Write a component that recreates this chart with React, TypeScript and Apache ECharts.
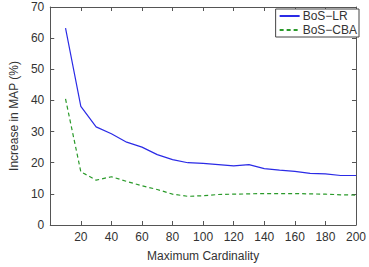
import React, { useEffect, useRef } from "react";
import * as echarts from "echarts";

const xValues = [10, 20, 30, 40, 50, 60, 70, 80, 90, 100, 110, 120, 130, 140, 150, 160, 170, 180, 190, 200];
const bosLR = [63.2, 38.1, 31.5, 29.3, 26.6, 25.0, 22.6, 21.0, 20.0, 19.8, 19.4, 19.0, 19.4, 18.1, 17.6, 17.2, 16.6, 16.4, 15.9, 15.9];
const bosCBA = [40.5, 17.1, 14.4, 15.5, 14.0, 12.6, 11.4, 9.9, 9.2, 9.4, 9.8, 9.9, 10.0, 10.1, 10.1, 10.1, 10.0, 9.9, 9.7, 9.6];
const seriesNames = ["BoS\u2212LR", "BoS\u2212CBA"];
const xAxisTitle = "Maximum Cardinality";
const yAxisTitle = "Increase in MAP (%)";

const FONT = "Liberation Sans, Arial, sans-serif";
const AXIS_COLOR = "#555";
const TEXT_COLOR = "#333";
const FS = 12;

export default function App() {
  const ref = useRef<HTMLDivElement>(null);
  useEffect(() => {
    document.body.style.margin = "0";
    const chart = echarts.init(ref.current!, undefined, { renderer: "svg" });
    const axisCommon = {
      axisLine: { show: true, onZero: false, lineStyle: { color: AXIS_COLOR, width: 1 } },
      axisTick: { show: true, inside: true, length: 4, lineStyle: { color: AXIS_COLOR } },
      splitLine: { show: false },
    };
    chart.setOption({
      animation: false,
      textStyle: { fontFamily: FONT },
      grid: { left: 39, top: 7, right: 7, bottom: 40 },
      legend: {
        orient: "vertical",
        right: 10,
        top: 9,
        itemWidth: 20,
        itemHeight: 8,
        itemGap: 2,
        padding: [1, 2, 1, 3],
        borderColor: "#444",
        borderWidth: 1,
        backgroundColor: "#fff",
        itemStyle: { opacity: 0 },
        textStyle: { fontFamily: FONT, fontSize: FS, color: TEXT_COLOR, padding: [0, 0, 0, -2] },
        data: seriesNames,
      },
      xAxis: [
        {
          type: "value",
          min: 0,
          max: 200,
          interval: 20,
          position: "bottom",
          name: xAxisTitle,
          nameLocation: "middle",
          nameGap: 25,
          nameTextStyle: { fontFamily: FONT, fontSize: FS, color: TEXT_COLOR },
          axisLabel: {
            fontFamily: FONT,
            fontSize: FS,
            color: TEXT_COLOR,
            margin: 6,
            showMinLabel: false,
            formatter: (v: number) => (v === 0 ? "" : String(v)),
          },
          ...axisCommon,
        },
        {
          type: "value",
          min: 0,
          max: 200,
          interval: 20,
          position: "top",
          axisLabel: { show: false },
          ...axisCommon,
        },
      ],
      yAxis: [
        {
          type: "value",
          min: 0,
          max: 70,
          interval: 10,
          position: "left",
          name: yAxisTitle,
          nameLocation: "middle",
          nameGap: 30,
          nameTextStyle: { fontFamily: FONT, fontSize: FS, color: TEXT_COLOR },
          axisLabel: { fontFamily: FONT, fontSize: FS, color: TEXT_COLOR, margin: 6 },
          ...axisCommon,
        },
        {
          type: "value",
          min: 0,
          max: 70,
          interval: 10,
          position: "right",
          axisLabel: { show: false },
          ...axisCommon,
        },
      ],
      series: [
        {
          name: seriesNames[0],
          type: "line",
          data: xValues.map((x, i) => [x, bosLR[i]]),
          showSymbol: false,
          symbol: "none",
          lineStyle: { color: "#2b2be6", width: 1.2 },
          itemStyle: { color: "#2b2be6" },
        },
        {
          name: seriesNames[1],
          type: "line",
          data: xValues.map((x, i) => [x, bosCBA[i]]),
          showSymbol: false,
          symbol: "none",
          lineStyle: { color: "#2a9a2a", width: 1.2, type: [4, 3] },
          itemStyle: { color: "#2a9a2a" },
        },
      ],
    });
    return () => chart.dispose();
  }, []);
  return <div ref={ref} style={{ width: 369, height: 267 }} />;
}
